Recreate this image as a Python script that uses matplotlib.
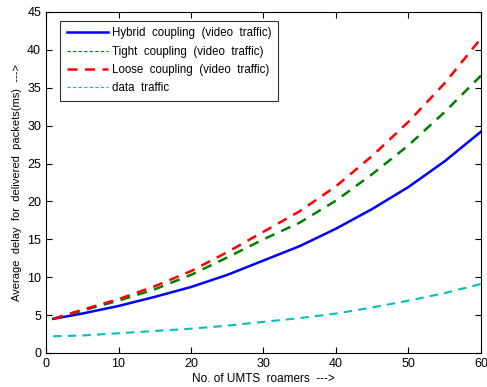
import matplotlib
matplotlib.use("Agg")
import matplotlib.pyplot as plt
from matplotlib.lines import Line2D

plt.rcParams['font.family'] = ['Liberation Sans', 'DejaVu Sans']

roamers = [1, 5, 10, 15, 20, 25, 30, 35, 40, 45, 50, 55, 60]
hybrid = [4.5, 5.2, 6.2, 7.4, 8.7, 10.3, 12.2, 14.1, 16.4, 19.0, 21.9, 25.3, 29.2]
tight = [4.5, 5.6, 6.9, 8.4, 10.3, 12.6, 15.0, 17.2, 20.1, 23.6, 27.4, 31.8, 36.6]
loose = [4.5, 5.7, 7.1, 8.8, 10.8, 13.3, 16.0, 18.7, 22.0, 26.0, 30.5, 35.6, 41.5]
data_traffic = [2.2, 2.3, 2.6, 2.9, 3.2, 3.6, 4.1, 4.6, 5.2, 6.0, 6.9, 7.9, 9.1]

labels = ['Hybrid  coupling  (video  traffic)', 'Tight  coupling  (video  traffic)',
          'Loose  coupling  (video  traffic)', 'data  traffic']

fig = plt.figure(figsize=(4.87, 3.87), dpi=100)
ax = fig.add_axes([0.0945, 0.088, 0.893, 0.881])

ax.plot(roamers, hybrid, color='b', lw=1.8)
ax.plot(roamers, tight, color='g', lw=1.8, dashes=(4, 3))
ax.plot(roamers, loose, color='r', lw=1.8, dashes=(4, 3))
ax.plot(roamers, data_traffic, color='c', lw=1.5, dashes=(4, 3))

handles = [Line2D([], [], color='b', lw=1.8),
           Line2D([], [], color='g', lw=0.8, dashes=(3, 2)),
           Line2D([], [], color='r', lw=1.8, dashes=(4, 3)),
           Line2D([], [], color='c', lw=0.8, dashes=(3, 2))]
leg = ax.legend(handles, labels, loc='upper left', bbox_to_anchor=(0.032, 0.975),
                fontsize=8.3, fancybox=False, frameon=True, edgecolor='black',
                handlelength=3.6, handletextpad=0.3, borderpad=0.6,
                labelspacing=0.55, borderaxespad=0)
leg.get_frame().set_linewidth(0.8)

ax.set_xlim(0, 60)
ax.set_ylim(0, 45)
ax.set_xticks(range(0, 61, 10))
ax.set_yticks(range(0, 46, 5))
ax.tick_params(direction='in', top=True, right=True, labelsize=9, length=4)
ax.set_xlabel('No. of UMTS  roamers  --->', fontsize=8.5, labelpad=2)
ax.set_ylabel('Average  delay  for  delivered  packets(ms)  --->', fontsize=8, labelpad=4)

fig.savefig('out.png', dpi=100)
